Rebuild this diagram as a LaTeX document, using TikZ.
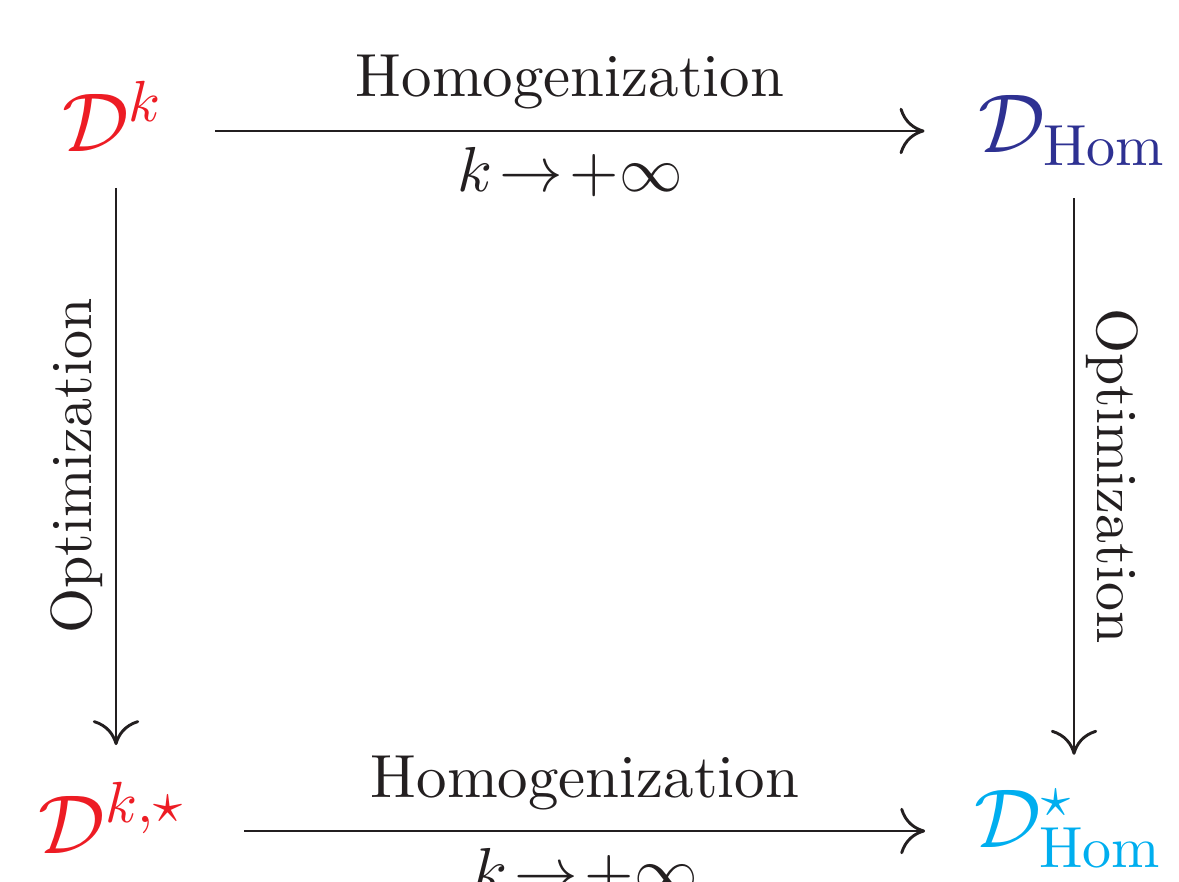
\documentclass[tikz,border=0pt]{standalone}
\usetikzlibrary{arrows.meta}
\definecolor{cred}{RGB}{237,28,36}
\definecolor{cblue}{RGB}{46,49,146}
\definecolor{ccyan}{RGB}{0,174,239}
\definecolor{ink}{RGB}{35,31,32}
\begin{document}
\begin{tikzpicture}[x=0.1724pt,y=-0.1724pt,
  obj/.style={inner sep=0pt, anchor=base, font=\Large},
  lbl/.style={inner sep=0pt, anchor=base, text=ink},
  arr/.style={draw=ink, line width=0.5pt, -{Computer Modern Rightarrow[length=4.3pt,width=8pt]}}]
\useasboundingbox (0,0) rectangle (1179,882);
\node[obj, text=cred]  (Dk)   at (113,152)  {$\mathcal{D}^k$};
\node[obj, text=cblue] (DHom) at (1073,153) {$\mathcal{D}_{\mathrm{Hom}}$};
\node[obj, text=cred]  (Dks)  at (112,853)  {$\mathcal{D}^{k,\star}$};
\node[obj, text=ccyan] (DHs)  at (1069,847) {$\mathcal{D}^{\star}_{\mathrm{Hom}}$};
\coordinate (rowT) at (0,131);
\coordinate (rowB) at (0,831);
\coordinate (colL) at (116,0);
\coordinate (colR) at (1074,0);
\draw[arr, shorten <=17.6pt, shorten >=25.6pt] (Dk.base |- rowT) -- (DHom.base |- rowT);
\draw[arr, shorten <=22.8pt, shorten >=24.8pt] (Dks.base |- rowB) -- (DHs.base |- rowB);
\draw[arr, shorten <=6.2pt, shorten >=18.6pt] (colL |- Dk.base) -- (colL |- Dks.base);
\draw[arr, shorten <=7.8pt, shorten >=15.9pt] (colR |- DHom.base) -- (colR |- DHs.base);
\node[lbl, font=\fontsize{10.5}{12}\selectfont] (hT) at (570,97)  {Homogenization};
\node[lbl, font=\fontsize{10.5}{12}\selectfont] (kT) at (570,192) {$k\!\to\!+\infty$};
\node[lbl, font=\fontsize{10.5}{12}\selectfont] (hB) at (585,797) {Homogenization};
\node[lbl, font=\fontsize{10.5}{12}\selectfont] (kB) at (585,892) {$k\!\to\!+\infty$};
\node[lbl, rotate=90]  (oL) at (91,466)   {Optimization};
\node[lbl, rotate=-90] (oR) at (1097,476) {Optimization};
\end{tikzpicture}
\end{document}
